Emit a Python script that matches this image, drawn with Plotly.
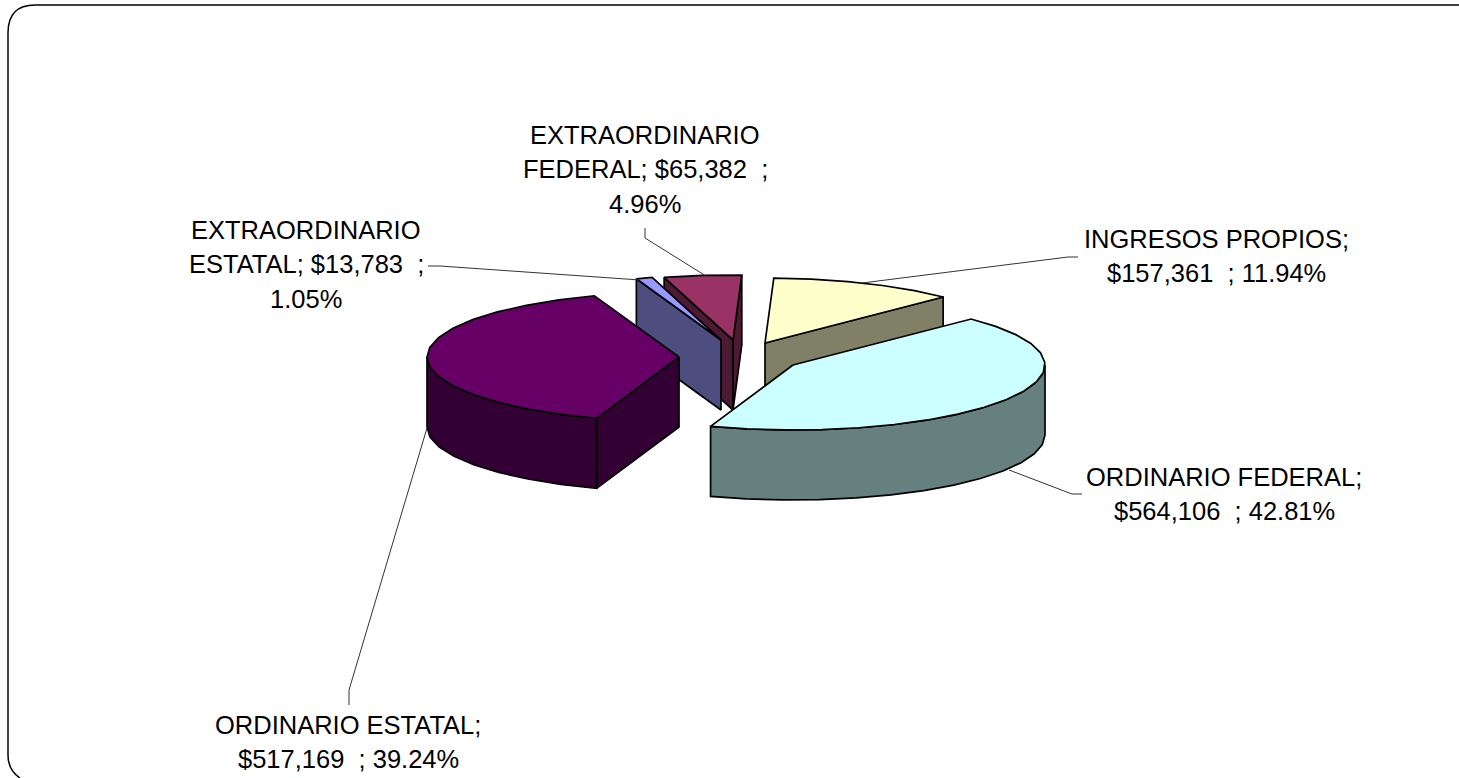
import numpy as np
import plotly.graph_objects as go

# ---- data ----
categories = ["INGRESOS PROPIOS", "ORDINARIO FEDERAL", "ORDINARIO ESTATAL",
              "EXTRAORDINARIO ESTATAL", "EXTRAORDINARIO FEDERAL"]
values = [157361, 564106, 517169, 13783, 65382]
top_colors = ["#FFFFCC", "#CCFFFF", "#660066", "#9999FF", "#993366"]
side_colors = ["#808066", "#668080", "#330033", "#4D4D80", "#4D1A33"]
# exploded position of each slice's apex on the page
apex_x = [765, 793, 679, 721, 733]
apex_y = [343, 365, 357, 340, 340]
draw_order = [0, 4, 3, 2, 1]

label_lines = [
    ["INGRESOS PROPIOS;", "$157,361  ; 11.94%"],
    ["ORDINARIO FEDERAL;", "$564,106  ; 42.81%"],
    ["ORDINARIO ESTATAL;", "$517,169  ; 39.24%"],
    ["EXTRAORDINARIO", "ESTATAL; $13,783  ;", "1.05%"],
    ["EXTRAORDINARIO", "FEDERAL; $65,382  ;", "4.96%"],
]
label_x = [1216, 1224, 348, 306, 645]
label_y = [239, 477, 725, 230, 135]
leaders = [
    ([1078, 1068, 862], [257, 257, 283]),
    ([1082, 1072, 1009], [494, 494, 470]),
    ([349, 349, 427], [705, 690, 428]),
    ([428, 440, 640], [266, 266, 280]),
    ([645, 645, 706], [228, 238, 276]),
]

# ---- pie projection ----
RX, RY, DEPTH = 252, 65, 70
START_DEG = 2.0
STEP_DEG = 9.0
LINE_GAP = 34.3
FONT_SIZE = 25.5
FONT = "Liberation Sans, Arial, sans-serif"

total = sum(values)
edges = START_DEG + np.cumsum([0] + values) / total * 360


def rim(cx, cy, a0, a1, drop=0):
    n = max(2, int(np.ceil((a1 - a0) / STEP_DEG)) + 1)
    th = np.radians(np.linspace(a0, a1, n))
    return cx + RX * np.sin(th), cy - RY * np.cos(th) + drop


def poly(xs, ys, fill):
    return go.Scatter(
        x=list(xs) + [xs[0]], y=list(ys) + [ys[0]], mode="lines", fill="toself",
        fillcolor=fill, line=dict(color="#000000", width=1.7),
        hoverinfo="skip", showlegend=False,
    )


fig = go.Figure()

for i in draw_order:
    cx, cy = apex_x[i], apex_y[i]
    a0, a1 = edges[i], edges[i + 1]
    # radial walls that face the viewer
    for ang, sign in ((a0, -1), (a1, 1)):
        if sign * np.sin(np.radians(ang)) > 0:
            px, py = rim(cx, cy, ang, ang + 0.001)
            fig.add_trace(poly([cx, px[0], px[0], cx],
                               [cy, py[0], py[0] + DEPTH, cy + DEPTH], side_colors[i]))
    # curved outer wall
    lo, hi = max(a0, 90), min(a1, 270)
    if hi > lo:
        ux, uy = rim(cx, cy, lo, hi)
        lx, ly = rim(cx, cy, lo, hi, DEPTH)
        fig.add_trace(poly(list(ux) + list(lx[::-1]), list(uy) + list(ly[::-1]), side_colors[i]))
    # top face
    tx, ty = rim(cx, cy, a0, a1)
    fig.add_trace(poly([cx] + list(tx), [cy] + list(ty), top_colors[i]))

for lx, ly in leaders:
    fig.add_trace(go.Scatter(x=lx, y=ly, mode="lines", line=dict(color="#333333", width=1),
                             hoverinfo="skip", showlegend=False))

annotations = []
for lines, x, y in zip(label_lines, label_x, label_y):
    for k, text in enumerate(lines):
        annotations.append(dict(x=x, y=y + k * LINE_GAP, text=text, showarrow=False,
                                xref="x", yref="y", xanchor="center", yanchor="middle",
                                font=dict(family=FONT, size=FONT_SIZE, color="#000000")))

frame = ("M 1459 5 L 35 5 Q 8 5 8 33 L 8 755 Q 8 770 20 778")

fig.update_layout(
    width=1459, height=778, margin=dict(l=0, r=0, t=0, b=0),
    paper_bgcolor="#FFFFFF", plot_bgcolor="#FFFFFF", showlegend=False,
    xaxis=dict(range=[0, 1459], visible=False, fixedrange=True),
    yaxis=dict(range=[778, 0], visible=False, fixedrange=True),
    annotations=annotations,
    shapes=[dict(type="path", path=frame, xref="x", yref="y",
                 line=dict(color="#000000", width=1.5))],
)

fig.write_html("out.html", config=dict(displayModeBar=False),
               post_script="document.body.style.margin='0';document.body.style.overflow='hidden';")
